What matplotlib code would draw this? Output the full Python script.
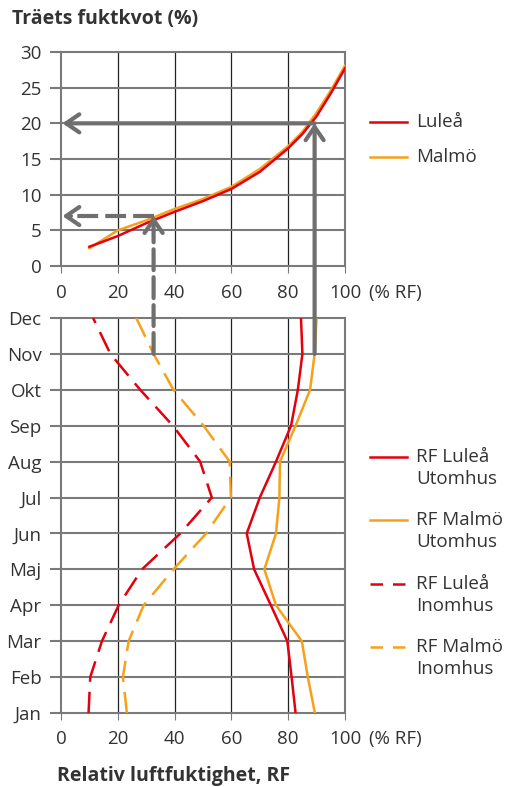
import numpy as np
import matplotlib.pyplot as plt
from matplotlib.lines import Line2D
from matplotlib.patches import ConnectionPatch

plt.rcParams['font.family'] = ['Open Sans', 'DejaVu Sans']

#================ data =================
# sorptionskurvor: fuktkvot (%) mot RF (%)
rf = [10, 20, 30, 40, 50, 60, 70, 80, 85, 90, 95, 100]
fukt_lulea = [2.7, 4.2, 6.0, 7.6, 9.1, 10.8, 13.2, 16.5, 18.5, 21.0, 24.2, 27.7]
fukt_malmo = [2.5, 5.0, 6.4, 8.0, 9.4, 11.1, 13.6, 16.8, 18.8, 21.5, 24.6, 28.1]

# RF per manad
manader = ['Jan', 'Feb', 'Mar', 'Apr', 'Maj', 'Jun', 'Jul', 'Aug', 'Sep', 'Okt', 'Nov', 'Dec']
rf_lulea_ute = [82.6, 81.2, 79.7, 73.9, 68.0, 65.4, 70.0, 75.7, 81.0, 83.4, 85.0, 84.5]
rf_malmo_ute = [89.4, 86.9, 84.8, 75.7, 71.6, 75.7, 76.9, 77.1, 82.6, 87.7, 89.3, 90.0]
rf_lulea_inne = [9.7, 10.3, 14.4, 20.3, 28.5, 42.0, 53.1, 49.0, 39.4, 27.9, 17.4, 11.3]
rf_malmo_inne = [23.2, 21.8, 23.8, 29.1, 39.6, 51.1, 59.8, 59.4, 50.2, 39.6, 32.6, 26.5]

# avlasta fuktkvoter
fk_ute = 20
fk_inne = 7

#================ style =================
RED = '#e3000f'
ORANGE = '#f7a11a'
GREY = '#6f6f6f'
LINE = '#7a7a7a'
TXT = '#333333'
FS = 13.5

W, H = 506, 787
fig = plt.figure(figsize=(W / 100, H / 100), dpi=100)

def fx(px):
    return px / W

def fy(py):
    return 1 - py / H

ax1 = fig.add_axes([fx(61), fy(266), fx(345) - fx(61), fy(52) - fy(266)])
ax2 = fig.add_axes([fx(61), fy(713), fx(345) - fx(61), fy(318) - fy(713)])

for ax in (ax1, ax2):
    for s in ax.spines.values():
        s.set_color(LINE)
        s.set_linewidth(1.5)
    ax.set_xlim(0, 100)
    ax.set_xticks([0, 20, 40, 60, 80, 100])
    ax.set_xticklabels(['0', '20', '40', '60', '80', '100'])
    for x in [20, 40, 60, 80]:
        ax.axvline(x, color='#222222', lw=0.9, zorder=1)
    ax.tick_params(axis='y', length=8, width=1.5, color=LINE, pad=6,
                   labelsize=FS, labelcolor=TXT)
    ax.tick_params(axis='x', length=5, width=0.8, color=LINE,
                   labelsize=FS, labelcolor=TXT)
    ax.annotate('(% RF)', xy=(1, 0), xycoords='axes fraction',
                xytext=(17, -13 if ax is ax1 else -12), textcoords='offset points',
                ha='left', va='top', fontsize=FS, color=TXT)

# ---- top: fuktkvot ----
ax1.set_ylim(0, 30)
ax1.set_yticks(range(0, 31, 5))
for y in range(5, 30, 5):
    ax1.axhline(y, color=LINE, lw=1.5, zorder=1)
ax1.tick_params(axis='x', pad=8)
ax1.plot(rf, fukt_malmo, color=ORANGE, lw=1.8, zorder=3)
ax1.plot(rf, fukt_lulea, color=RED, lw=1.8, zorder=3)

# ---- bottom: manader ----
pos = np.arange(len(manader))
ax2.set_ylim(0, 11)
ax2.set_yticks(pos)
ax2.set_yticklabels(manader)
for y in pos[1:-1]:
    ax2.axhline(y, color=LINE, lw=1.5, zorder=1)
ax2.tick_params(axis='x', pad=7)
dash = (0, (8.5, 4))
ax2.plot(rf_lulea_ute, pos, color=RED, lw=1.8, zorder=3)
ax2.plot(rf_malmo_ute, pos, color=ORANGE, lw=1.8, zorder=3)
ax2.plot(rf_lulea_inne, pos, color=RED, lw=1.8, ls=dash, zorder=3)
ax2.plot(rf_malmo_inne, pos, color=ORANGE, lw=1.8, ls=dash, zorder=3)

# ---- pilar ----
nov = manader.index('Nov')
head = '->,head_length=0.95,head_width=0.65'
x_ute = rf_malmo_ute[nov]
x_inne = rf_malmo_inne[nov]
adash = (0, (5, 1.7))

cp = ConnectionPatch(xyA=(x_ute, pos[nov]), coordsA=ax2.transData,
                     xyB=(x_ute, fk_ute), coordsB=ax1.transData,
                     arrowstyle=head, color=GREY, lw=3, shrinkA=0, shrinkB=0,
                     mutation_scale=10, zorder=5)
fig.add_artist(cp)
ax1.annotate('', xy=(0.5, fk_ute), xytext=(x_ute, fk_ute),
             arrowprops=dict(arrowstyle=head, color=GREY, lw=3,
                             shrinkA=0, shrinkB=0), zorder=5)

cp2 = ConnectionPatch(xyA=(x_inne, pos[nov]), coordsA=ax2.transData,
                      xyB=(x_inne, fk_inne - 0.3), coordsB=ax1.transData,
                      arrowstyle='-', color=GREY, lw=3, ls=adash,
                      shrinkA=0, shrinkB=0, zorder=5)
fig.add_artist(cp2)
ax1.annotate('', xy=(x_inne, fk_inne), xytext=(x_inne, fk_inne - 0.8),
             arrowprops=dict(arrowstyle=head, color=GREY, lw=3,
                             shrinkA=0, shrinkB=0), zorder=5)
ax1.plot([x_inne, 2], [fk_inne, fk_inne], color=GREY, lw=3, ls=adash, zorder=5)
ax1.annotate('', xy=(0.5, fk_inne), xytext=(3.5, fk_inne),
             arrowprops=dict(arrowstyle=head, color=GREY, lw=3,
                             shrinkA=0, shrinkB=0), zorder=5)

# ---- rubriker ----
fig.text(fx(12), fy(19), 'Träets fuktkvot (%)', fontsize=14, fontweight='bold',
         color=TXT, va='center', ha='left')
fig.text(fx(57), fy(776), 'Relativ luftfuktighet, RF', fontsize=14,
         fontweight='bold', color=TXT, va='center', ha='left')

# ---- legender ----
def leg(py, color, ls, lines):
    fig.add_artist(Line2D([fx(370), fx(407)], [fy(py), fy(py)], color=color,
                          lw=1.8, ls=ls, transform=fig.transFigure))
    for i, t in enumerate(lines):
        fig.text(fx(416), fy(py + i * 22), t, fontsize=FS, color=TXT,
                 va='center', ha='left')

leg(122, RED, '-', ['Luleå'])
leg(157, ORANGE, '-', ['Malmö'])
leg(457, RED, '-', ['RF Luleå', 'Utomhus'])
leg(520, ORANGE, '-', ['RF Malmö', 'Utomhus'])
leg(584, RED, (0, (5, 4)), ['RF Luleå', 'Inomhus'])
leg(647, ORANGE, (0, (5, 4)), ['RF Malmö', 'Inomhus'])

fig.savefig('out.png', dpi=100)
